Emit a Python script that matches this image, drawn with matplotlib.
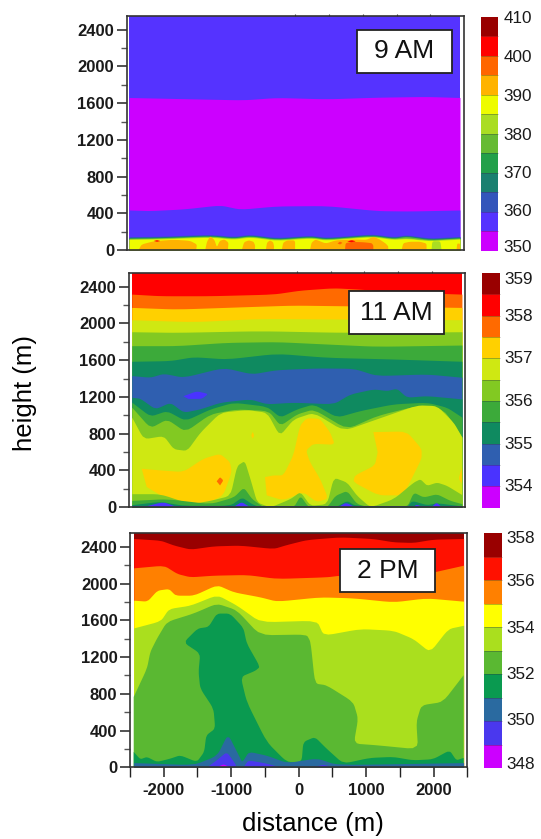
#!/usr/bin/env python3
import matplotlib
matplotlib.use("Agg")
import matplotlib.pyplot as plt
from matplotlib.colors import ListedColormap, BoundaryNorm
from matplotlib.cm import ScalarMappable
from matplotlib.transforms import ScaledTranslation
from matplotlib.ticker import MultipleLocator

plt.rcParams['font.family'] = ['Liberation Sans', 'DejaVu Sans']
plt.rcParams['axes.unicode_minus'] = False

W, H = 541, 839

# ---- colour tables, lowest band first
colors_9am = ['#cc00ff', '#5533ff', '#3355bb', '#1a8070', '#22a04a', '#66bb33',
              '#aadd22', '#eefc00', '#ffb300', '#ff6600', '#ff0000', '#990000']
levels_9am = [350, 355, 360, 365, 370, 375, 380, 385, 390, 395, 400, 405, 410]
ticks_9am = [350, 360, 370, 380, 390, 400, 410]
shift_9am = [4.7, 2, 1, 0, 0, 0, 0]

colors_11am = ['#cc00ff', '#4a33ff', '#2f5fb0', '#0f8a60', '#3caa3a', '#82c922',
               '#cfe812', '#ffd000', '#ff6a00', '#ff0000', '#990000']
levels_11am = [353.5, 354, 354.5, 355, 355.5, 356, 356.5, 357, 357.5, 358, 358.5, 359]
ticks_11am = [354, 355, 356, 357, 358, 359]
shift_11am = [1.5, 1, 1, 1, 1, -4.7]

colors_2pm = ['#cc00ff', '#4a38ee', '#2a6aa0', '#0a9a50', '#5ab832', '#aadf1e',
              '#ffff00', '#ff8000', '#ff1100', '#990000']
levels_2pm = [348, 349, 350, 351, 352, 353, 354, 355, 356, 357, 358]
ticks_2pm = [348, 350, 352, 354, 356, 358]
shift_2pm = [5, 2, 1, 0, 0, -4]

top_tick_x = [0, 500, 1000, 1500, 2000]

# ---- 9 AM
a_top_x = [-2465, -1512, -771, -277, 464, 1205, 1946, 2440]
a_top_y = [1662, 1647, 1636, 1662, 1647, 1665, 1673, 1662]
a_low_x = [-2465, -2154, -1660, -1116, -820, -277, 464, 1205, 1699, 2440]
a_low_y = [436, 429, 447, 491, 444, 480, 484, 429, 425, 436]
a_st_x = [-2465, -2006, -1265, -919, -672, -277, 217, 464, 1131, 1452, 1650, 1996, 2440]
a_blue_y = [145, 150, 170, 148, 170, 135, 160, 138, 175, 145, 165, 130, 148]
a_teal_y = [137, 142, 162, 140, 162, 127, 152, 130, 167, 137, 157, 122, 140]
a_green_y = [129, 134, 154, 132, 154, 119, 144, 122, 159, 129, 149, 114, 132]
a_lime_y = [122, 127, 147, 125, 147, 112, 137, 115, 152, 122, 132, 107, 125]
a_yellow_y = [115, 120, 140, 118, 140, 105, 130, 108, 145, 115, 125, 100, 118]
a_gold = [
    ([-2323, -2280, -2100, -1800, -1560, -1459, -1470], [0, 60, 95, 112, 100, 60, 0]),
    ([-1336, -1310, -1262, -1200, -1163, -1120, -1050, -991, -1000], [0, 90, 150, 110, 30, 100, 115, 80, 0]),
    ([-793, -760, -690, -620, -596, -600], [0, 85, 105, 90, 50, 0]),
    ([-438, -420, -375, -330, -315, -320], [0, 80, 105, 85, 40, 0]),
    ([-201, -180, -120, -4, -4], [0, 80, 105, 105, 0]),
    ([218, 240, 300, 450, 600, 730, 900, 1050, 1160, 1250, 1340, 1377, 1377],
     [0, 80, 115, 70, 105, 110, 115, 110, 145, 115, 70, 40, 0]),
    ([1575, 1600, 1700, 1850, 1945, 1945], [0, 75, 90, 90, 70, 0]),
    ([2389, 2400, 2440, 2440], [0, 70, 70, 0]),
]
a_orange = [
    ([736, 745, 830, 1000, 1131, 1156, 1156], [0, 75, 88, 85, 75, 50, 0]),
    ([625, 662, 700, 662], [72, 92, 78, 60]),
]
a_red = [
    ([770, 834, 900, 830], [92, 108, 94, 85]),
    ([-2100, -2051, -2000, -2051], [98, 108, 98, 90]),
]
a_lime_x = [2019, 2030, 2150, 2167]
a_lime_h = [0, 95, 95, 0]

# ---- 11 AM
b_orange_x = [-2455, -2030, -1292, -351, 45, 540, 936, 1431, 2450]
b_orange_y = [2320, 2302, 2302, 2320, 2363, 2389, 2374, 2345, 2320]
b_gold_x = [-2455, -1787, -797, -54, 688, 1431, 2450]
b_gold_y = [2175, 2157, 2182, 2200, 2193, 2186, 2175]
b_yellow_x = [-2455, -1540, -549, 688, 2450]
b_yellow_y = [2041, 2019, 2055, 2048, 2041]
b_light_x = [-2455, -1787, -549, 688, 2450]
b_light_y = [1910, 1903, 1921, 1903, 1910]
b_green_x = [-2455, -1787, -1044, -302, 441, 1183, 2450]
b_green_y = [1758, 1758, 1794, 1802, 1776, 1751, 1765]
b_teal_x = [-2455, -1886, -1540, -1044, -302, 441, 1431, 2450]
b_teal_y = [1588, 1595, 1638, 1613, 1675, 1631, 1613, 1588]
b_blue_x = [-2455, -2183, -1985, -1688, -1094, -673, -302, 292, 837, 1183, 1926, 2450]
b_blue_y = [1432, 1414, 1457, 1414, 1522, 1450, 1497, 1515, 1512, 1432, 1450, 1414]
b_teal2_x = [-2455, -2331, -2109, -1886, -1688, -1441, -1143, -698, -450, -54, 540, 787,
             1134, 1332, 1480, 1629, 1926, 2450]
b_teal2_y = [1196, 1185, 1069, 1142, 1033, 1069, 1142, 1178, 1124, 1142, 1124, 1232,
             1287, 1269, 1294, 1196, 1214, 1178]
b_green2_x = [-2455, -2183, -1936, -1663, -1292, -945, -450, -252, -5, 243, 589, 936,
              1431, 1926, 2223, 2450]
b_green2_y = [1142, 990, 1051, 942, 1069, 1142, 1098, 979, 1069, 1124, 979, 1051,
              1124, 1142, 1088, 979]
b_light2_x = [-2455, -2183, -1936, -1663, -1292, -896, -426, -252, -5, 243, 738, 1183,
              1777, 2173, 2450]
b_light2_y = [1088, 863, 961, 823, 1015, 1069, 1051, 888, 1015, 1069, 852, 997,
              1106, 1069, 761]
b_yel_x = [-2455, -2282, -1985, -1837, -1638, -1441, -1143, -747, -450, -262, -54, 243,
           688, 1183, 1777, 2074, 2322, 2450]
b_yel_y = [979, 743, 779, 634, 616, 816, 1033, 1062, 1033, 779, 961, 1033,
           834, 961, 1113, 1106, 924, 761]
b_blob_a_x = [-2307, -2035, -1688, -1391, -1143, -995, -970, -1094, -1341, -1564, -1985, -2232]
b_blob_a_y = [417, 399, 381, 526, 580, 489, 381, 127, 36, 36, 109, 218]
b_blob_b_x = [-475, -351, -203, -54, 45, 144, 342, 490, 564, 243, 134, 193, 342, 465, 292, 94, -203, -450]
b_blob_b_y = [326, 344, 344, 562, 888, 968, 961, 816, 678, 689, 616, 489, 308, 91, 54, 163, 72, 127]
b_blob_c_x = [1134, 1629, 1851, 1851, 1678, 1579, 1208, 836, 861, 1158, 1198]
b_blob_c_y = [816, 823, 634, 526, 272, 127, 127, 272, 344, 453, 598]
b_blob_d_x = [2450, 2401, 2450]
b_blob_d_y = [435, 308, 254]
b_dot_x = [-680, -658, -636, -658]
b_dot_y = [779, 820, 779, 745]
b_red_x = [-1193, -1143, -1094, -1143]
b_red_y = [280, 326, 290, 235]
b_hole_x = [-1688, -1490, -1317, -1416, -1614]
b_hole_y = [1207, 1261, 1232, 1178, 1178]
b_low1_x = [-2455, -2035, -1589, -1292, -995, -896, -782, -698, -599, -401, -104, 45, 193,
            441, 540, 738, 886, 1084, 1431, 1728, 1827, 1926, 2074, 2223, 2450]
b_low1_y = [145, 145, 36, 72, 127, 453, 507, 308, 54, 0, 91, 170, 18,
            36, 326, 272, 127, 0, 91, 272, 308, 236, 272, 236, 134]
b_low2_x = [-2455, -1936, -1292, -945, -797, -673, -500, -54, 45, 168, 441, 564, 738, 886,
            1084, 1629, 1728, 1876, 2074, 2272, 2450]
b_low2_y = [72, 91, 36, 109, 218, 91, 0, 0, 127, 0, 0, 127, 181, 36,
            0, 0, 163, 109, 145, 72, 36]
b_low3_x = [-2455, -2035, -1688, -995, -822, -673, -550, 564, 738, 861, 1629, 1703, 1926, 2074, 2450]
b_low3_y = [25, 62, 18, 18, 109, 36, 0, 0, 72, 18, 0, 72, 25, 47, 11]
b_vio = [
    ([-2282, -1985, -1787], [0, 54, 0]),
    ([-945, -822, -698], [0, 54, 0]),
    ([614, 728, 861], [0, 47, 0]),
    ([1728, 1777, 1876], [0, 25, 0]),
    ([2000, 2074, 2148], [0, 47, 0]),
]

# ---- 2 PM
c_red_x = [-2445, -2050, -1850, -1607, -1262, -868, -375, -177, 118, 611, 1104, 1400, 1696, 1992, 2445]
c_red_y = [2490, 2472, 2418, 2374, 2410, 2418, 2381, 2425, 2479, 2508, 2490, 2454, 2447, 2483, 2490]
c_orange_x = [-2445, -2000, -1804, -1607, -1262, -769, -325, 414, 611, 1400, 1893, 2445]
c_orange_y = [2171, 2200, 2109, 2073, 2091, 2098, 2055, 2073, 2091, 2073, 2109, 2200]
c_yellow_x = [-2445, -2248, -2100, -1928, -1829, -1558, -1213, -966, -572, -325, 316, 809, 1400, 1893, 2445]
c_yellow_y = [1819, 1808, 1928, 1946, 1873, 1873, 1989, 1909, 1855, 1808, 1855, 1844, 1800, 1844, 1808]
c_light_x = [-2445, -2050, -1928, -1607, -1213, -917, -572, 266, 365, 907, 1400, 1696, 1942, 2213, 2445]
c_light_y = [1517, 1594, 1728, 1764, 1880, 1764, 1583, 1601, 1437, 1510, 1492, 1401, 1256, 1510, 1546]
c_mid_x = [-2445, -2248, -2199, -2100, -1952, -1558, -1213, -917, -572, 118, 177, 242, 414, 809, 882, 818,
           1154, 1770, 1745, 1819, 2140, 2445]
c_mid_y = [766, 1074, 1256, 1401, 1583, 1673, 1782, 1710, 1437, 1445, 1365, 911, 893, 711, 530, 258,
           240, 196, 494, 675, 711, 1002]
c_dark_x = [-2445, -2347, -2248, -2100, -1903, -1755, -1509, -1400, -1370, -1237, -1262, -1459, -1484,
            -1459, -1705, -1498, -1335, -1213, -1016, -818, -769, -572, -646, -858, -769, -473, -177,
            44, 69, 242, 414, 661, 1055, 1400, 1696, 1992, 2238, 2337, 2445]
c_dark_y = [167, 87, 113, 58, 94, 131, 58, 167, 348, 421, 639, 857, 1038,
            1238, 1358, 1510, 1528, 1673, 1673, 1517, 1347, 1093, 1049, 984, 711, 276, 58,
            58, 276, 330, 203, 40, 102, 113, 76, 87, 185, 76, 102]
c_blue_x = [-2445, -1558, -1213, -1055, -892, -843, -744, -473, -177, 266, 562, 2445]
c_blue_y = [51, 29, 131, 367, 131, 58, 174, 131, 51, 102, 29, 51]
c_vio = [
    ([-1355, -1213, -1065, -941, -917], [0, 76, 167, 40, 0]),
    ([-818, -744, -473, -276], [0, 76, 40, 0]),
    ([217, 365, 513], [0, 29, 0]),
]
c_mag_x = [-1213, -1113, -1016]
c_mag_y = [0, 33, 0]

# ---- layout, pixels in the picture (left, right, top, bottom)
box_9am = (126.7, 464, 16, 250)
box_11am = (128.7, 465.3, 273, 507)
box_2pm = (130, 467.3, 533, 767.3)
cb_9am = (481, 498.3, 16.7, 250.7)
cb_11am = (482.3, 500, 273, 507.7)
cb_2pm = (484.3, 501.7, 533, 768)
lab_9am = (356.7, 452.3, 30, 73)
lab_11am = (349, 444.3, 291.3, 334)
lab_2pm = (340, 435, 549.3, 592)


def axes_px(fig, b):
    return fig.add_axes([b[0] / W, 1 - b[3] / H, (b[1] - b[0]) / W, (b[3] - b[2]) / H])


def setup(ax, bottom_ticks=False):
    ax.set_xlim(-2500, 2500)
    ax.set_ylim(0, 2550)
    ax.yaxis.set_major_locator(MultipleLocator(400))
    ax.yaxis.set_minor_locator(MultipleLocator(200))
    ax.xaxis.set_major_locator(MultipleLocator(1000))
    ax.xaxis.set_minor_locator(MultipleLocator(500))
    ax.tick_params(axis='y', which='major', length=7, width=1.1, pad=2, labelsize=12, color='#222222')
    ax.tick_params(axis='y', which='minor', length=4, width=1.0, color='#555555')
    if bottom_ticks:
        ax.tick_params(axis='x', which='major', length=7, width=1.1, pad=4, labelsize=12, color='#222222')
        ax.tick_params(axis='x', which='minor', length=7, width=1.0, color='#222222')
    else:
        ax.tick_params(axis='x', which='both', length=0, labelbottom=False)
        ax.vlines(top_tick_x, 2550, 2568, color='#444444', lw=0.8, clip_on=False)
    for t in ax.get_xticklabels() + ax.get_yticklabels():
        t.set_fontweight('bold')
        t.set_color('#1a1a1a')
    for s in ax.spines.values():
        s.set_linewidth(1.2)
        s.set_color('#333333')
        s.set_zorder(10)


def soften(xs, ys, passes=2, cut=0.15):
    # trim the corners a little so the contour lines don't look like straight pieces
    for _ in range(passes):
        nx, ny = [xs[0]], [ys[0]]
        for i in range(len(xs) - 1):
            nx += [xs[i] + cut * (xs[i + 1] - xs[i]), xs[i] + (1 - cut) * (xs[i + 1] - xs[i])]
            ny += [ys[i] + cut * (ys[i + 1] - ys[i]), ys[i] + (1 - cut) * (ys[i + 1] - ys[i])]
        nx.append(xs[-1])
        ny.append(ys[-1])
        xs, ys = nx, ny
    return xs, ys


def under(ax, xs, ys, c):
    xs, ys = soften(xs, ys)
    ax.fill_between(xs, 0, ys, color=c, lw=0)


def blob(ax, xs, ys, c):
    xs, ys = soften(xs, ys)
    ax.fill(xs, ys, color=c, lw=0)


def ground_blob(ax, xs, ys, c):
    # outline runs edge to edge, the closing part follows the ground with sharp corners
    xs, ys = soften(xs, ys)
    ax.fill(xs + [xs[-1], xs[0]], ys + [0, 0], color=c, lw=0)


def colorbar(fig, b, colors, levels, ticks, shifts):
    cax = axes_px(fig, b)
    cmap = ListedColormap(colors)
    norm = BoundaryNorm(levels, cmap.N)
    cb = fig.colorbar(ScalarMappable(norm=norm, cmap=cmap), cax=cax, spacing='uniform',
                      ticks=ticks, drawedges=True)
    cb.dividers.set_color('#333333')
    cb.dividers.set_alpha(0.35)
    cb.dividers.set_linewidth(0.7)
    cb.outline.set_visible(False)
    cb.ax.minorticks_off()
    cb.ax.tick_params(length=0, pad=3.5, labelsize=12.3)
    cb.ax.set_yticklabels([str(t) for t in ticks])
    for t, d in zip(cb.ax.get_yticklabels(), shifts):
        t.set_transform(t.get_transform() + ScaledTranslation(0, d / 100, fig.dpi_scale_trans))
        t.set_color('#1a1a1a')


def stamp(fig, b, s):
    x0, x1, y0, y1 = b[0] / W, b[1] / W, 1 - b[3] / H, 1 - b[2] / H
    fig.patches.append(plt.Rectangle((x0, y0), x1 - x0, y1 - y0, transform=fig.transFigure,
                                     fc='white', ec='#222222', lw=1.3, zorder=20))
    fig.text((x0 + x1) / 2, (y0 + y1) / 2, s, ha='center', va='center', fontsize=19, zorder=21,
             color='#111111')


fig = plt.figure(figsize=(W / 100, H / 100), dpi=100)

# 9 AM panel
ax = axes_px(fig, box_9am)
setup(ax)
ax.fill_between([-2465, 2440], 0, 2550, color=colors_9am[1], lw=0)
under(ax, a_top_x, a_top_y, colors_9am[0])
under(ax, a_low_x, a_low_y, colors_9am[1])
under(ax, a_st_x, a_blue_y, colors_9am[2])
under(ax, a_st_x, a_teal_y, colors_9am[3])
under(ax, a_st_x, a_green_y, colors_9am[5])
under(ax, a_st_x, a_lime_y, colors_9am[6])
under(ax, a_st_x, a_yellow_y, colors_9am[7])
for xs, ys in a_gold:
    blob(ax, xs, ys, colors_9am[8])
blob(ax, a_lime_x, a_lime_h, colors_9am[6])
for xs, ys in a_orange:
    blob(ax, xs, ys, colors_9am[9])
for xs, ys in a_red:
    blob(ax, xs, ys, colors_9am[10])

# 11 AM panel
ax = axes_px(fig, box_11am)
setup(ax)
ax.fill_between([-2455, 2450], 0, 2550, color=colors_11am[9], lw=0)
under(ax, b_orange_x, b_orange_y, colors_11am[8])
under(ax, b_gold_x, b_gold_y, colors_11am[7])
under(ax, b_yellow_x, b_yellow_y, colors_11am[6])
under(ax, b_light_x, b_light_y, colors_11am[5])
under(ax, b_green_x, b_green_y, colors_11am[4])
under(ax, b_teal_x, b_teal_y, colors_11am[3])
under(ax, b_blue_x, b_blue_y, colors_11am[2])
blob(ax, b_hole_x, b_hole_y, colors_11am[1])
under(ax, b_teal2_x, b_teal2_y, colors_11am[3])
under(ax, b_green2_x, b_green2_y, colors_11am[4])
under(ax, b_light2_x, b_light2_y, colors_11am[5])
under(ax, b_yel_x, b_yel_y, colors_11am[6])
blob(ax, b_blob_a_x, b_blob_a_y, colors_11am[7])
blob(ax, b_blob_b_x, b_blob_b_y, colors_11am[7])
blob(ax, b_blob_c_x, b_blob_c_y, colors_11am[7])
blob(ax, b_blob_d_x, b_blob_d_y, colors_11am[7])
blob(ax, b_dot_x, b_dot_y, colors_11am[7])
blob(ax, b_red_x, b_red_y, colors_11am[8])
under(ax, b_low1_x, b_low1_y, colors_11am[5])
under(ax, b_low2_x, b_low2_y, colors_11am[4])
under(ax, b_low3_x, b_low3_y, colors_11am[3])
ax.fill_between([-2455, 2450], 0, 14, color=colors_11am[2], lw=0)
for xs, ys in b_vio:
    blob(ax, xs, ys, colors_11am[1])

# 2 PM panel
ax = axes_px(fig, box_2pm)
setup(ax, bottom_ticks=True)
ax.fill_between([-2445, 2445], 0, 2550, color=colors_2pm[9], lw=0)
under(ax, c_red_x, c_red_y, colors_2pm[8])
under(ax, c_orange_x, c_orange_y, colors_2pm[7])
under(ax, c_yellow_x, c_yellow_y, colors_2pm[6])
under(ax, c_light_x, c_light_y, colors_2pm[5])
ground_blob(ax, c_mid_x, c_mid_y, colors_2pm[4])
ground_blob(ax, c_dark_x, c_dark_y, colors_2pm[3])
under(ax, c_blue_x, c_blue_y, colors_2pm[2])
for xs, ys in c_vio:
    blob(ax, xs, ys, colors_2pm[1])
blob(ax, c_mag_x, c_mag_y, colors_2pm[0])

colorbar(fig, cb_9am, colors_9am, levels_9am, ticks_9am, shift_9am)
colorbar(fig, cb_11am, colors_11am, levels_11am, ticks_11am, shift_11am)
colorbar(fig, cb_2pm, colors_2pm, levels_2pm, ticks_2pm, shift_2pm)

stamp(fig, lab_9am, '9 AM')
stamp(fig, lab_11am, '11 AM')
stamp(fig, lab_2pm, '2 PM')

fig.text(313 / W, 1 - 824 / H, 'distance (m)', ha='center', va='center', fontsize=18.5)
fig.text(25 / W, 1 - 393 / H, 'height (m)', ha='center', va='center', rotation=90, fontsize=18.5)

fig.savefig('out.png', dpi=100)
